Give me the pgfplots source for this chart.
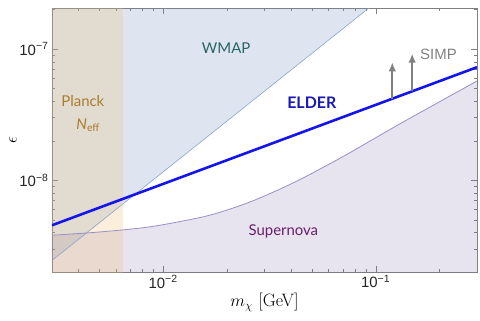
\documentclass[border=0pt]{standalone}
\usepackage{fontspec}
\usepackage{pgfplots}
\pgfplotsset{compat=1.18}
\usetikzlibrary{arrows.meta,calc}
\newfontfamily\arial{Liberation Sans}
\newfontfamily\lato{Lato}
\definecolor{wmap}{RGB}{111,143,192}
\definecolor{wmapedge}{RGB}{138,164,204}
\definecolor{snova}{RGB}{122,98,168}
\definecolor{snedge}{RGB}{154,144,200}
\definecolor{planck}{RGB}{239,187,107}
\definecolor{elder}{RGB}{20,20,235}
\definecolor{wmaptxt}{RGB}{40,100,100}
\definecolor{plancktxt}{RGB}{168,124,46}
\definecolor{sntxt}{RGB}{105,30,105}
\definecolor{eldertxt}{RGB}{25,25,180}
\definecolor{axgray}{RGB}{128,128,128}

\begin{document}
\begin{tikzpicture}
\begin{axis}[
  scale only axis, width=425bp, height=264bp,
  xmode=log, ymode=log,
  xmin=0.003, xmax=0.3, ymin=2e-9, ymax=2.05e-7,
  axis line style={axgray},
  tick style={axgray},
  major tick length=6bp, minor tick length=3.5bp,
  xtick={0.01,0.1}, xticklabels={10\textsuperscript{−2},10\textsuperscript{−1}},
  ytick={1e-8,1e-7}, yticklabels={10\textsuperscript{−8},10\textsuperscript{−7}},
  minor xtick={0.003,0.004,0.005,0.006,0.007,0.008,0.009,0.02,0.03,0.04,0.05,0.06,0.07,0.08,0.09,0.2,0.3},
  minor ytick={2e-9,3e-9,4e-9,5e-9,6e-9,7e-9,8e-9,9e-9,2e-8,3e-8,4e-8,5e-8,6e-8,7e-8,8e-8,9e-8,2e-7},
  ticklabel style={font=\arial\fontsize{15}{17}\selectfont, text=black!85},
  xlabel={$m_\chi$ [GeV]}, ylabel={$\epsilon$},
  label style={font=\fontsize{18}{20}\selectfont},
  xlabel style={yshift=2bp},
  ylabel style={yshift=-4bp},
]
% WMAP (excluded above the line)
\addplot[draw=none, fill=wmap, fill opacity=0.23]
  coordinates {(0.003,2.45e-9)(0.15,3.8e-7)(0.003,3.8e-7)} --cycle;
% Supernova (excluded below the curve)
\addplot[draw=none, fill=snova, fill opacity=0.18, smooth, tension=0.5]
  coordinates {(0.003,3.81e-9)(0.00506,4.04e-9)(0.00869,4.42e-9)(0.014916,5.2e-9)(0.019545,5.86e-9)(0.025614,6.83e-9)(0.033558,8.22e-9)(0.043966,1.011e-8)(0.05761,1.272e-8)(0.075475,1.617e-8)(0.12965,2.68e-8)(0.3,5.7e-8)}
  -- (axis cs:0.3,1e-9) -- (axis cs:0.003,1e-9) -- cycle;
% Planck N_eff band
\addplot[draw=none, fill=planck, fill opacity=0.25]
  coordinates {(0.003,1e-9)(0.0065,1e-9)(0.0065,1e-6)(0.003,1e-6)} --cycle;
% edges
\addplot[wmapedge, line width=0.6bp] coordinates {(0.003,2.45e-9)(0.15,3.8e-7)};
\addplot[snedge, line width=0.8bp, smooth, tension=0.5]
  coordinates {(0.003,3.81e-9)(0.00506,4.04e-9)(0.00869,4.42e-9)(0.014916,5.2e-9)(0.019545,5.86e-9)(0.025614,6.83e-9)(0.033558,8.22e-9)(0.043966,1.011e-8)(0.05761,1.272e-8)(0.075475,1.617e-8)(0.12965,2.68e-8)(0.3,5.7e-8)};
% ELDER
\addplot[elder, line width=2.6bp] coordinates {(0.003,4.54e-9)(0.3,7.26e-8)};
% SIMP arrows
\addplot[axgray, line width=1.6bp, -{Latex[length=9bp,width=7.5bp]}] coordinates {(0.1198,4.18e-8)(0.1198,7.9e-8)};
\addplot[axgray, line width=1.6bp, -{Latex[length=9bp,width=7.5bp]}] coordinates {(0.1486,4.76e-8)(0.1486,9.2e-8)};
% labels
\node[font=\lato\fontsize{15}{17}\selectfont, text=wmaptxt] at (axis cs:0.0198,1.01e-7) {WMAP};
\node[font=\lato\bfseries\fontsize{16}{18}\selectfont, text=eldertxt] at (axis cs:0.0501,3.86e-8) {ELDER};
\node[font=\arial\fontsize{15}{17}\selectfont, text=axgray] at (axis cs:0.1977,9.12e-8) {SIMP};
\node[font=\lato\fontsize{15}{17}\selectfont, text=plancktxt] at (axis cs:0.00419,4.0e-8) {Planck};
\node[font=\lato\fontsize{15}{17}\selectfont, text=plancktxt] at (axis cs:0.00444,2.62e-8) {\textit{N}\textsubscript{eff}};
\node[font=\lato\fontsize{15}{17}\selectfont, text=sntxt] at (axis cs:0.0368,4.1e-9) {Supernova};
\end{axis}
\path ($(current axis.south west)+(-52bp,-49bp)$) rectangle ($(current axis.north east)+(3bp,8bp)$);
\end{tikzpicture}
\end{document}
